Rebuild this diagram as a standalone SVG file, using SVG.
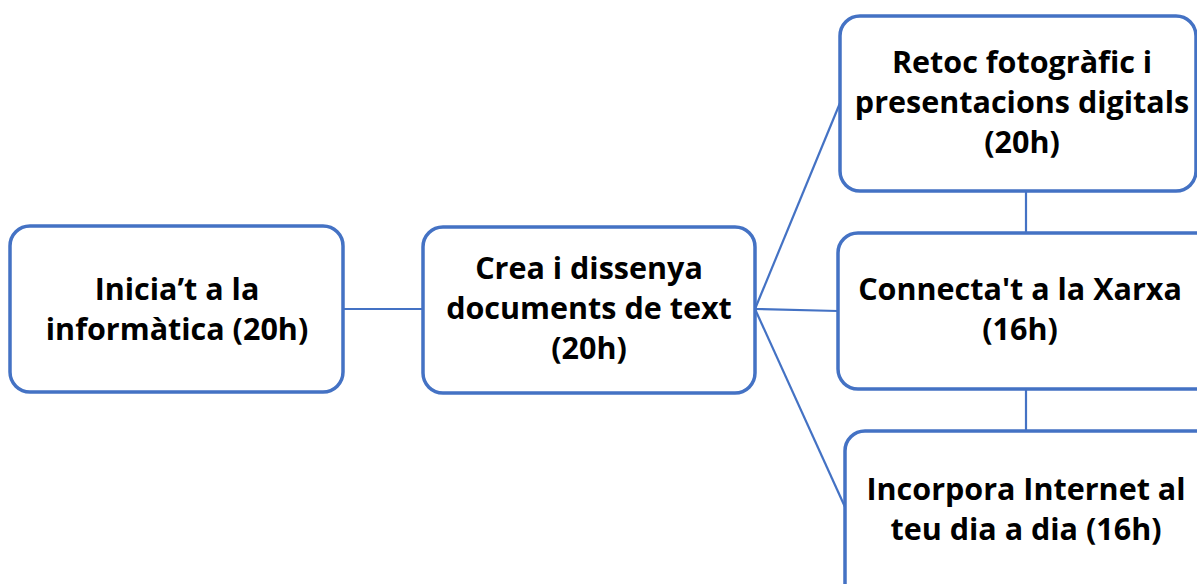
<svg xmlns="http://www.w3.org/2000/svg" width="1197" height="584" viewBox="0 0 1197 584">
<style>
.box{fill:#fff;stroke:#4472c4;stroke-width:3.5}
.t{font-family:"Open Sans",Lato,sans-serif;font-weight:bold;font-size:30.5px;fill:#000;text-anchor:middle;font-variant-ligatures:none}
.c{stroke:#4472c4;stroke-width:2.2;fill:none}
</style>
<rect width="1197" height="584" fill="#fff"/>
<g id="connectors">
<line class="c" x1="343" y1="309" x2="423" y2="309"/>
<line class="c" x1="755" y1="309" x2="840" y2="103"/>
<line class="c" x1="755" y1="309" x2="838" y2="311"/>
<line class="c" x1="755" y1="309" x2="845" y2="507"/>
<line class="c" x1="1026" y1="191" x2="1026" y2="233" stroke="#2e75b6"/>
<line class="c" x1="1026" y1="389" x2="1026" y2="431"/>
</g>
<g id="n1">
<rect class="box" x="10" y="226" width="333" height="166" rx="20"/>
<text class="t" x="177" y="300">Inicia’t a la</text>
<text class="t" x="177" y="340">informàtica (20h)</text>
</g>
<g id="n2">
<rect class="box" x="423" y="227" width="332" height="166" rx="20"/>
<text class="t" x="589" y="279">Crea i dissenya</text>
<text class="t" x="589" y="319">documents de text</text>
<text class="t" x="589" y="359">(20h)</text>
</g>
<g id="n3">
<rect class="box" x="840" y="16" width="356" height="175" rx="20"/>
<text class="t" x="1022" y="73">Retoc fotogràfic i</text>
<text class="t" x="1022" y="113">presentacions digitals</text>
<text class="t" x="1022" y="153">(20h)</text>
</g>
<g id="n4">
<rect class="box" x="838" y="233" width="380" height="156" rx="20"/>
<text class="t" x="1020" y="300">Connecta't a la Xarxa</text>
<text class="t" x="1020" y="340">(16h)</text>
</g>
<g id="n5">
<rect class="box" x="845" y="431" width="380" height="180" rx="20"/>
<text class="t" x="1026" y="500">Incorpora Internet al</text>
<text class="t" x="1026" y="540">teu dia a dia (16h)</text>
</g>
</svg>
